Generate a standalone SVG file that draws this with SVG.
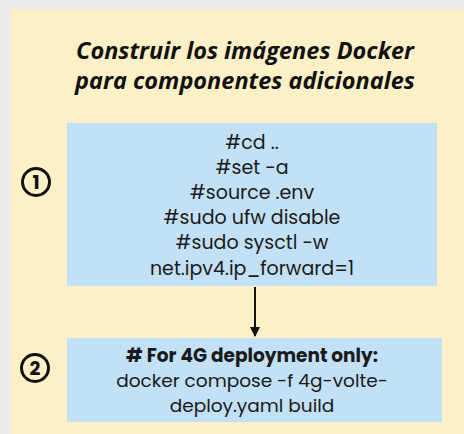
<svg xmlns="http://www.w3.org/2000/svg" width="464" height="434" viewBox="0 0 464 434">
<defs>
<style>
.title{font-family:"Open Sans",sans-serif;font-weight:bold;font-style:italic;font-size:23.5px;fill:#111;text-anchor:middle}
.code{font-family:"Poppins","Lato","Open Sans",sans-serif;font-size:19px;fill:#1a1a1a;text-anchor:middle}
.code2{font-family:"Poppins","Lato","Open Sans",sans-serif;font-size:18.5px;fill:#1a1a1a;text-anchor:middle}
.num{font-family:"Poppins","Open Sans",sans-serif;font-weight:bold;font-size:19px;fill:#111;text-anchor:middle}
.circ{fill:none;stroke:#111;stroke-width:3}
.box{fill:#c2e0f6}
</style>
<marker id="ah" viewBox="0 0 10 10" refX="9" refY="5" markerWidth="5" markerHeight="5" orient="auto"><path d="M0,0 L10,5 L0,10 z" fill="#111"/></marker>
</defs>
<rect width="464" height="434" fill="#ebebeb"/>
<rect x="11" y="10" width="453" height="424" fill="#fcf0c6"/>
<g id="title">
<text class="title" x="245" y="59">Construir los imágenes Docker</text>
<text class="title" x="245" y="89">para componentes adicionales</text>
</g>
<g id="node1">
<rect class="box" x="67" y="123" width="370" height="163"/>
<text class="code" x="252" y="149">#cd ..</text>
<text class="code" x="252" y="174">#set -a</text>
<text class="code" x="252" y="199">#source .env</text>
<text class="code" x="252" y="224">#sudo ufw disable</text>
<text class="code" x="252" y="249">#sudo sysctl -w</text>
<text class="code" x="252" y="275">net.ipv4.ip_forward=1</text>
</g>
<g id="badge1">
<circle class="circ" cx="36" cy="182" r="13.5"/>
<text class="num" x="36" y="189">1</text>
</g>
<g id="node2">
<rect class="box" x="67" y="338" width="375" height="84"/>
<text class="code2" x="252" y="362" font-weight="bold">#&#160;For 4G deployment only:</text>
<text class="code2" x="252" y="387">docker compose -f 4g-volte-</text>
<text class="code2" x="252" y="412">deploy.yaml build</text>
</g>
<g id="badge2">
<circle class="circ" cx="35" cy="368" r="13.5"/>
<text class="num" x="35" y="375">2</text>
</g>
<g id="connectors">
<line x1="255" y1="287" x2="255" y2="336" stroke="#111" stroke-width="2" marker-end="url(#ah)"/>
</g>
</svg>
